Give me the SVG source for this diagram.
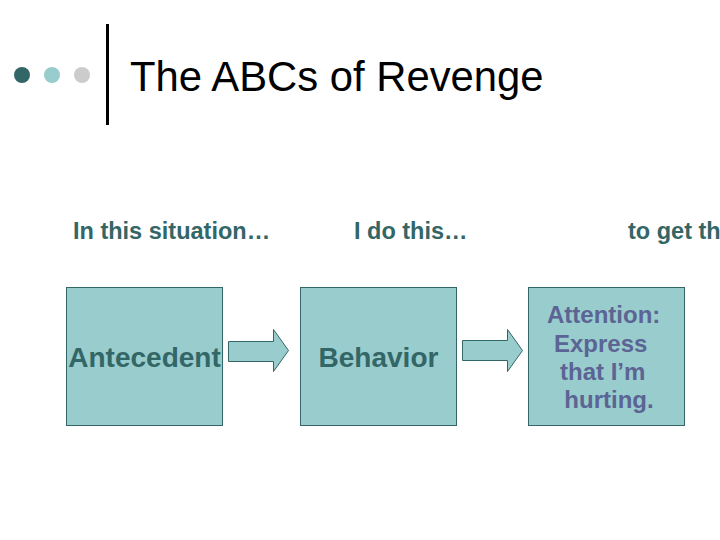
<svg xmlns="http://www.w3.org/2000/svg" width="720" height="540" viewBox="0 0 720 540">
  <style>
    .hdr { font-family: "Liberation Sans", Arial, sans-serif; font-weight: bold; font-size: 23.5px; fill: #336666; }
    .box { fill: #99cccc; stroke: #336666; stroke-width: 1; }
    .lbl { font-family: "Liberation Sans", Arial, sans-serif; font-weight: bold; font-size: 28px; fill: #336666; text-anchor: middle; }
    .lbl2 { font-family: "Liberation Sans", Arial, sans-serif; font-weight: bold; font-size: 24px; fill: #5b6494; text-anchor: middle; }
    .arrow { fill: #99cccc; stroke: #336666; stroke-width: 1; }
  </style>
  <rect width="720" height="540" fill="#ffffff"/>
  <g id="title">
    <circle cx="22" cy="75" r="8" fill="#336666"/>
    <circle cx="52" cy="75" r="8" fill="#99cccc"/>
    <circle cx="82" cy="75" r="8" fill="#cccccc"/>
    <line x1="107.5" y1="24" x2="107.5" y2="125" stroke="#000000" stroke-width="3"/>
    <text x="130" y="91" font-family="'Liberation Sans', Arial, sans-serif" font-size="41.8" fill="#000000">The ABCs of Revenge</text>
  </g>
  <g id="headers">
    <text class="hdr" x="73" y="239">In this situation…</text>
    <text class="hdr" x="354" y="239">I do this…</text>
    <text class="hdr" x="628" y="239">to get th</text>
  </g>
  <g id="antecedent">
    <rect class="box" x="66.5" y="287.5" width="156" height="138"/>
    <text class="lbl" x="144.5" y="367">Antecedent</text>
  </g>
  <g id="behavior">
    <rect class="box" x="300.5" y="287.5" width="156" height="138"/>
    <text class="lbl" x="378.5" y="367">Behavior</text>
  </g>
  <g id="consequence">
    <rect class="box" x="528.5" y="287.5" width="156" height="138"/>
    <text class="lbl2" x="606">
      <tspan x="607" y="323">Attention:</tspan>
      <tspan x="604" y="352">Express</tspan>
      <tspan x="606" y="380">that I’m</tspan>
      <tspan x="609" y="408">hurting.</tspan>
    </text>
  </g>
  <g id="connectors">
    <polygon class="arrow" points="228.5,341.5 273.5,341.5 273.5,329.5 288.5,350.5 273.5,371.5 273.5,361.5 228.5,361.5"/>
    <polygon class="arrow" points="462.5,340.5 507.5,340.5 507.5,329.5 522.5,350.5 507.5,371.5 507.5,360.5 462.5,360.5"/>
  </g>
</svg>
